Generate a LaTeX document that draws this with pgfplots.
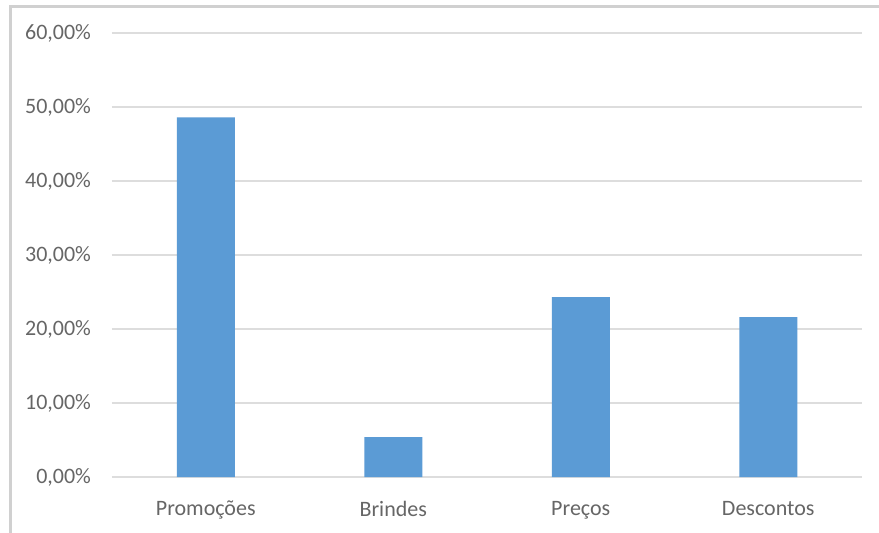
\documentclass[border=0pt]{standalone}
\usepackage{pgfplots}
\pgfplotsset{compat=1.18}
\usepackage{fontspec}
\setmainfont{Carlito}
\definecolor{barblue}{HTML}{5B9BD5}
\definecolor{gridgray}{HTML}{DDDDDD}
\definecolor{txtgray}{HTML}{666666}
\definecolor{bordergray}{HTML}{D0D0D0}
\begin{document}
\begin{tikzpicture}
\path[use as bounding box] (0pt,0pt) rectangle (439.5pt,266pt);
\fill[white] (0pt,0pt) rectangle (439.5pt,266pt);
\draw[bordergray, line width=1.5pt] (5pt,-3pt) -- (5pt,263pt) -- (445pt,263pt);
\begin{axis}[
  at={(56pt,27.5pt)}, anchor=south west,
  scale only axis, width=375pt, height=222pt,
  ymin=0, ymax=60, xmin=-0.5, xmax=3.5,
  ytick={0,10,...,60},
  xtick={0,1,2,3},
  xticklabels={Promoções,Brindes,Preços,Descontos},
  yticklabel={\pgfmathprintnumber[fixed,fixed zerofill,precision=2,use comma]{\tick}\%},
  /pgf/number format/assume math mode=true,
  ymajorgrids, grid style={gridgray, line width=1pt},
  axis line style={draw=none},
  tick style={draw=none},
  ticklabel style={font=\fontsize{11}{13}\selectfont, text=txtgray},
  yticklabel style={xshift=-7pt},
  xticklabel style={yshift=-8.5pt},
  axis x line*=bottom,
  axis y line*=left,
]
\addplot[ybar, bar width=29pt, fill=barblue, draw=none] coordinates {
 (0,48.6) (1,5.4) (2,24.3) (3,21.6)
};
\end{axis}
\end{tikzpicture}
\end{document}
